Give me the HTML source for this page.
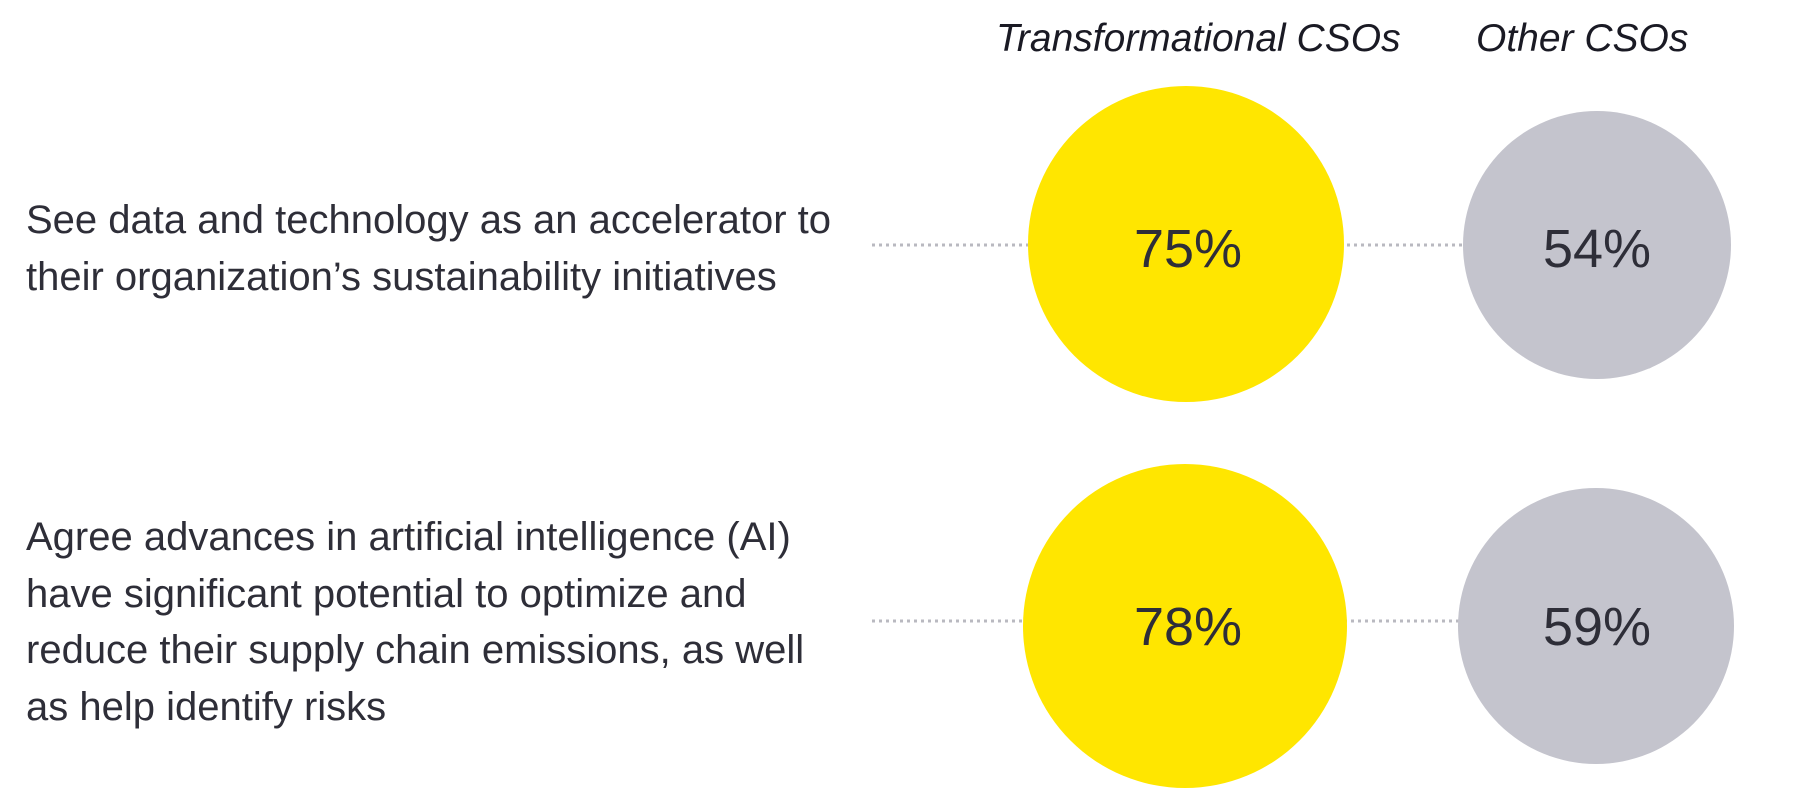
<!DOCTYPE html>
<html><head><meta charset="utf-8"><style>
html,body{margin:0;padding:0;background:#fff;}
body{width:1800px;height:807px;position:relative;overflow:hidden;font-family:"Liberation Sans",sans-serif;color:#2e2e38;}
.t{position:absolute;left:26px;font-size:40px;line-height:56.5px;white-space:nowrap;}
.h{position:absolute;top:17px;font-size:39px;font-style:italic;color:#1a1a24;white-space:nowrap;}
</style></head><body>
<svg width="1800" height="807" style="position:absolute;left:0;top:0">
<g stroke="#b9b9c0" stroke-width="3" stroke-dasharray="3 4">
<line x1="872" y1="245" x2="1030" y2="245"/><line x1="1340" y1="245" x2="1465" y2="245"/>
<line x1="872" y1="621" x2="1026" y2="621"/><line x1="1344" y1="621" x2="1460" y2="621"/>
</g>
<circle cx="1186" cy="244" r="158" fill="#ffe600"/>
<circle cx="1597" cy="245" r="134" fill="#c4c4cd"/>
<circle cx="1185" cy="626" r="162" fill="#ffe600"/>
<circle cx="1596" cy="626" r="138" fill="#c4c4cd"/>
<g font-family="Liberation Sans, sans-serif" font-size="54" fill="#2e2e38" text-anchor="middle">
<text x="1188" y="267">75%</text><text x="1597" y="267">54%</text>
<text x="1188" y="645">78%</text><text x="1597" y="645">59%</text>
</g>
</svg>
<div class="h" style="left:996px">Transformational CSOs</div>
<div class="h" style="left:1476px">Other CSOs</div>
<div class="t" style="top:192px">See data and technology as an accelerator to<br>their organization’s sustainability initiatives</div>
<div class="t" style="top:509px">Agree advances in artificial intelligence (AI)<br>have significant potential to optimize and<br>reduce their supply chain emissions, as well<br>as help identify risks</div>
</body></html>
